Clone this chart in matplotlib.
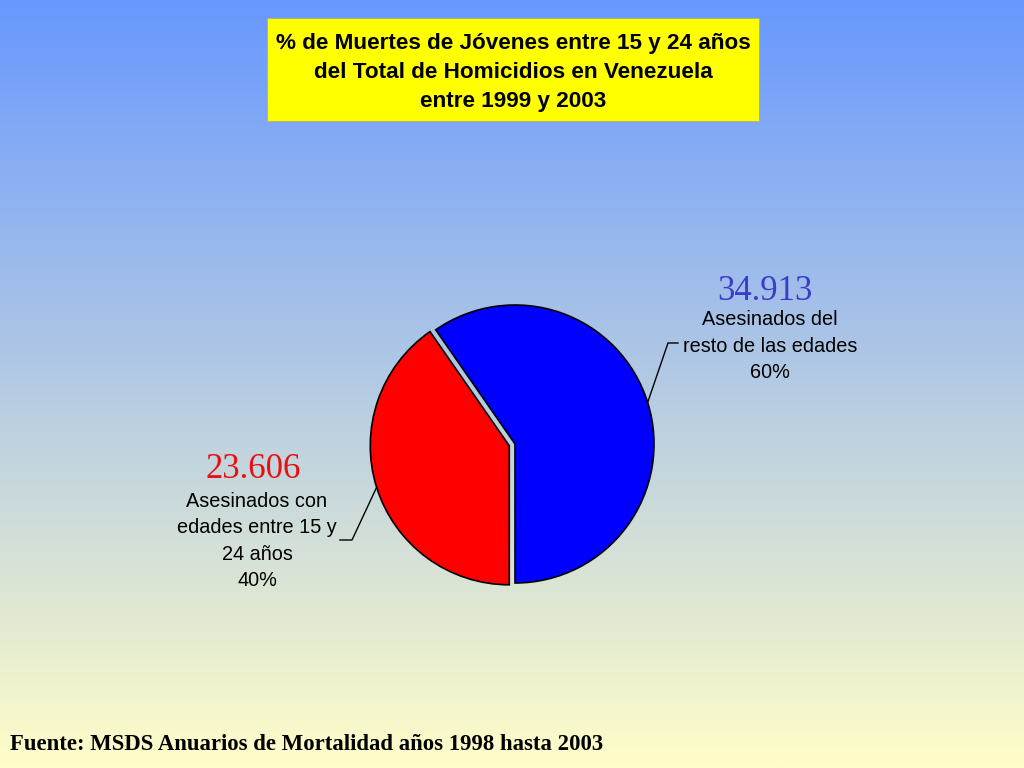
import numpy as np
import matplotlib
matplotlib.use("Agg")
import matplotlib.pyplot as plt
from matplotlib.patches import Rectangle

# data
labels = ["Asesinados del\nresto de las edades", "Asesinados con\nedades entre 15 y\n24 años"]
values = [34913, 23606]
value_text = ["34.913", "23.606"]
colors = ["#0000ff", "#ff0000"]
value_colors = ["#3c3cc8", "#e81010"]

title = "% de Muertes de Jóvenes entre 15 y 24 años\ndel Total de Homicidios en Venezuela\nentre 1999 y 2003"
source = "Fuente: MSDS Anuarios de Mortalidad años 1998 hasta 2003"

W, H = 1024, 768
fig = plt.figure(figsize=(W / 100, H / 100), dpi=100)
ax = fig.add_axes([0, 0, 1, 1])

# background gradient (blue top -> pale yellow bottom)
top = np.array([104, 152, 255]) / 255
bot = np.array([255, 253, 200]) / 255
t = np.linspace(0, 1, 256)[:, None]
grad = top * (1 - t) + bot * t
ax.imshow(grad[:, None, :], extent=[0, W, 0, H], aspect="auto", zorder=0,
          origin="upper")

# title box
ax.add_patch(Rectangle((267, H - 121), 492, 103, facecolor="#ffff00",
                       edgecolor="#b0b070", lw=0.6, zorder=2))
ax.text(513, H - 73, title, ha="center", va="center", fontsize=16.2,
        fontweight="bold", family="Liberation Sans",
        linespacing=1.5, zorder=3)

# pie (radius in pixels, explode offset in pixels as well)
cx, cy, r = 515, H - 444, 139
total = sum(values)
explode = [0, 6]
wedges, _ = ax.pie(values, colors=colors, startangle=-90, counterclock=True,
                   center=(cx, cy), radius=r, explode=explode,
                   wedgeprops=dict(edgecolor="black", linewidth=1.2),
                   frame=True)
ax.set_xlim(0, W)
ax.set_ylim(0, H)
ax.axis("off")

# labels with leader lines
for i, w in enumerate(wedges):
    ang = np.deg2rad((w.theta1 + w.theta2) / 2)
    ox = cx + explode[i] * np.cos(ang)
    oy = cy + explode[i] * np.sin(ang)
    x0, y0 = ox + r * np.cos(ang), oy + r * np.sin(ang)
    pct = round(100 * values[i] / total)
    txt = labels[i] + f"\n{pct}%"
    if i == 0:
        pts = [(x0, y0), (668, H - 343), (678, H - 343)]
        tx, ty = 770, H - 346
        vx, vy = 765, H - 291
    else:
        pts = [(x0, y0), (352, H - 540), (340, H - 540)]
        tx, ty = 257, H - 541
        vx, vy = 253, H - 469
    xs, ys = zip(*pts)
    ax.plot(xs, ys, color="black", lw=1, zorder=4)
    ax.text(tx, ty, txt, ha="center", va="center", fontsize=14.3,
            family="Liberation Sans", linespacing=1.5, zorder=4)
    ax.text(vx, vy, value_text[i], ha="center", va="center", fontsize=25,
            family="Liberation Serif", color=value_colors[i], zorder=4)

ax.text(10, H - 745, source, ha="left", va="center", fontsize=16.4,
        fontweight="bold", family="Liberation Serif", zorder=4)

fig.savefig("out.png", dpi=100)
